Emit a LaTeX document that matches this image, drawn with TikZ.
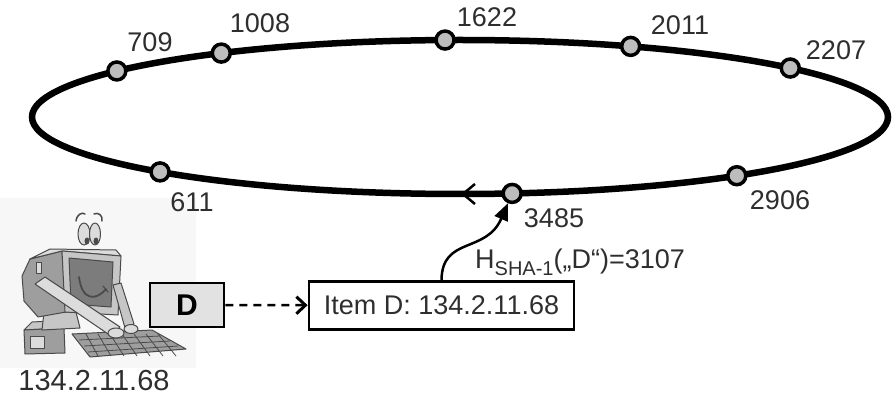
\documentclass[tikz,border=0pt]{standalone}
\usepackage{fontspec}
\setmainfont{Liberation Sans}
\usetikzlibrary{arrows.meta}
\definecolor{ink}{HTML}{2E2E2E}
\definecolor{peerfill}{HTML}{BDBDBD}
\definecolor{keyfill}{HTML}{E2E2E2}
\definecolor{clipline}{HTML}{4A4A4A}
\definecolor{clipA}{HTML}{9E9E9E}
\definecolor{clipB}{HTML}{C6C6C6}
\definecolor{clipC}{HTML}{DCDCDC}
\definecolor{clipD}{HTML}{7C7C7C}

\begin{document}
\begin{tikzpicture}[x=1pt,y=-1pt,
  peer/.style={circle,draw=black,line width=3.5pt,fill=peerfill,minimum size=18pt,inner sep=0pt},
  idlabel/.style={text=ink,font=\fontsize{27}{27}\selectfont,inner sep=0pt,anchor=base},
  keybox/.style={draw=black,line width=2.5pt,fill=keyfill,minimum width=74pt,minimum height=44pt,inner sep=0pt,
    font=\fontsize{30}{30}\selectfont\bfseries},
  itembox/.style={draw=black,line width=2.8pt,fill=white,minimum width=265pt,minimum height=48pt,inner sep=0pt,
    text=ink,font=\fontsize{27}{27}\selectfont},
  clip part/.style={draw=clipline,line width=1pt,line join=round}]
\useasboundingbox (0,0) rectangle (896,395);

% soft backdrop behind the computer figure
\fill[black!3] (0,198) rectangle (196,368);

% ---- the ring ----
\coordinate (c) at (460,117);
\draw[line width=6.5pt] (c) ellipse [x radius=428, y radius=77];
% direction mark on the ring
\draw[line width=2.5pt,-{Straight Barb[length=12pt,width=20pt]}] (c) ++(24,77) -- ++(-23,0) coordinate (ringtip);

% peers on the ring
\path (c) ++(216.7:428 and 77) node[peer] (n709) {};
\path (c) ++(236.1:428 and 77) node[peer] (n1008) {};
\path (c) ++(268:428 and 77) node[peer] (n1622) {};
\path (c) ++(293.5:428 and 77) node[peer] (n2011) {};
\path (c) ++(320.5:428 and 77) node[peer] (n2207) {};
\path (c) ++(49.7:428 and 77) node[peer] (n2906) {};
\path (c) ++(83:428 and 77) node[peer] (n3485) {};
\path (c) ++(134.5:428 and 77) node[peer] (n611) {};

% peer identifiers
\node[idlabel] (l709) at (150,52) {709};
\node[idlabel] (l1008) at (260,33) {1008};
\node[idlabel] (l1622) at (487,27) {1622};
\node[idlabel] (l2011) at (680,35) {2011};
\node[idlabel] (l2207) at (836,60) {2207};
\node[idlabel] (l2906) at (780,210) {2906};
\node[idlabel] (l3485) at (554,228) {3485};
\node[idlabel] (l611) at (192,212) {611};

% ---- computer figure ----
% system unit
\filldraw[clip part,fill=clipB] (24,330) -- (32,322) -- (70,320) -- (64,328) -- cycle;
\filldraw[clip part,fill=clipA] (24,330) -- (64,328) -- (65,353) -- (25,354) -- cycle;
\filldraw[clip part,fill=clipC] (30,336) rectangle (44,348);
% stand
\filldraw[clip part,fill=clipB] (44,312) -- (76,312) -- (80,328) -- (42,330) -- cycle;
% monitor housing
\filldraw[clip part,fill=clipA] (22,276) -- (30,259) -- (62,251) -- (66,312) -- (38,317) -- (24,301) -- cycle;
\filldraw[clip part,fill=clipC] (30,259) -- (50,249) -- (116,250) -- (121,256) -- (62,251) -- cycle;
\filldraw[clip part,fill=clipC] (36,262) rectangle (41,273);
% bezel and screen
\filldraw[clip part,fill=clipB] (62,251) -- (121,256) -- (118,315) -- (65,312) -- cycle;
\filldraw[clip part,fill=clipD] (69,258) -- (113,262) -- (111,307) -- (71,304) -- cycle;
\draw[clipline,line width=1.8pt,line cap=round] (79,277) .. controls (82,301) and (96,301) .. (106,289);
\draw[clipline,line width=1.2pt,line cap=round] (103,286) -- (108,292);
% eyes
\filldraw[clip part,fill=clipC] (84,234) ellipse [x radius=6, y radius=11];
\filldraw[clip part,fill=clipC] (95,234) ellipse [x radius=5.5, y radius=11];
\fill[clipline] (87,241) ellipse [x radius=2.5, y radius=3.5];
\fill[clipline] (96,241) ellipse [x radius=2.5, y radius=3.5];
\draw[clipline,line width=1.5pt,line cap=round] (76,221) .. controls (77,214) and (82,212) .. (85,214);
\draw[clipline,line width=1.5pt,line cap=round] (94,214) .. controls (98,212) and (103,215) .. (102,221);
% keyboard
\filldraw[clip part,fill=clipA] (72,334) -- (152,330) -- (186,349) -- (90,357) -- cycle;
\draw[clipline,line width=0.8pt] (79,340) -- (160,336) (84,346) -- (170,341) (88,352) -- (178,346);
\foreach \k in {0,...,6} \draw[clipline,line width=0.8pt] (86+12*\k,334) -- (98+13*\k,356);
% arms and hands
\filldraw[clip part,fill=clipC] (35,284) -- (45,277) -- (120,327) -- (111,336) -- cycle;
\filldraw[clip part,fill=clipB] (113,285) -- (121,283) -- (134,324) -- (125,328) -- cycle;
\filldraw[clip part,fill=clipC] (116,333) ellipse [x radius=8, y radius=5];
\filldraw[clip part,fill=clipC] (131,329) ellipse [x radius=7, y radius=4.5];
\node[idlabel,font=\fontsize{29}{29}\selectfont] (addr) at (94,390) {134.2.11.68};

% ---- data item and its key ----
\node[keybox] (key) at (187,305) {D};
\node[itembox] (item) at (441.5,305.5) {Item D: 134.2.11.68};
\draw[line width=2.5pt,dash pattern=on 8pt off 6pt,
      -{Straight Barb[length=9pt,width=17pt,line width=3pt]}] (key) -- (item);

% hash lookup onto the ring
\draw[line width=2.5pt,-{Triangle[length=17pt,width=14pt]}]
  (item.north) .. controls (442,236) and (486,254) .. (n3485);
\node[text=ink,font=\fontsize{27}{27}\selectfont,inner sep=0pt,anchor=base west] (hash) at (475,268)
  {H\raisebox{-7pt}{\fontsize{20}{20}\selectfont SHA-1}(„D“)=3107};
\end{tikzpicture}
\end{document}
